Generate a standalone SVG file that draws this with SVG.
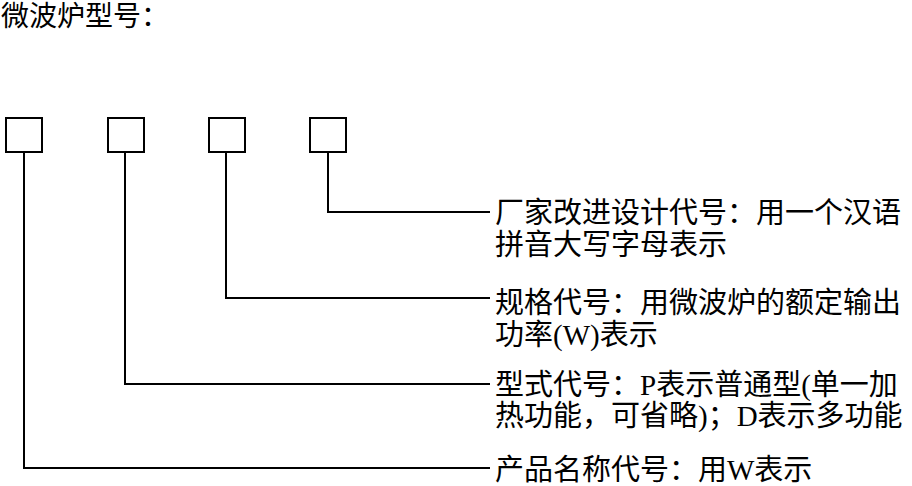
<svg xmlns="http://www.w3.org/2000/svg" width="912" height="486" viewBox="0 0 912 486">
<style>
.box{fill:#fff;stroke:#000;stroke-width:2}
.ln{fill:none;stroke:#000;stroke-width:2}
text{font-family:"Liberation Serif","Noto Sans CJK SC",serif;font-size:29px;fill:#000}
.title{font-size:28px}
</style>
<rect width="912" height="486" fill="#fff"/>
<g id="title"><text class="title" x="1" y="26">微波炉型号：</text></g>
<g id="box1"><rect class="box" x="6" y="118" width="36" height="34"/></g>
<g id="box2"><rect class="box" x="108" y="118" width="36" height="34"/></g>
<g id="box3"><rect class="box" x="209" y="118" width="36" height="34"/></g>
<g id="box4"><rect class="box" x="310" y="118" width="36" height="34"/></g>
<g id="connectors">
<polyline class="ln" points="24,152 24,468 490,468"/>
<polyline class="ln" points="125,152 125,384 490,384"/>
<polyline class="ln" points="226,152 226,298 490,298"/>
<polyline class="ln" points="328,152 328,212 490,212"/>
</g>
<g id="label4"><text x="495" y="223">厂家改进设计代号：用一个汉语</text><text x="495" y="255">拼音大写字母表示</text></g>
<g id="label3"><text x="495" y="313">规格代号：用微波炉的额定输出</text><text x="495" y="345">功率(W)表示</text></g>
<g id="label2"><text x="495" y="395">型式代号：P表示普通型(单一加</text><text x="495" y="426">热功能，可省略)；D表示多功能</text></g>
<g id="label1"><text x="495" y="480">产品名称代号：用W表示</text></g>
</svg>
